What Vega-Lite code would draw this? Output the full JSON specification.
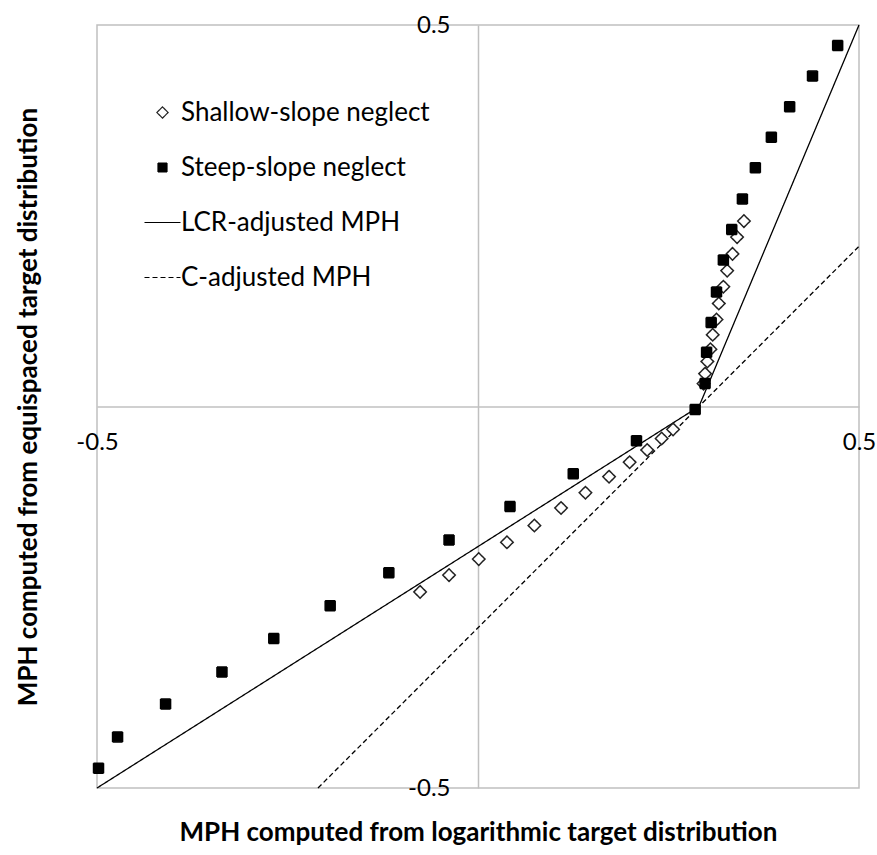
{
  "$schema": "https://vega.github.io/schema/vega-lite/v6.json",
  "width": 762,
  "height": 763,
  "autosize": {"type": "none"},
  "padding": {"left": 97, "top": 25, "right": 18, "bottom": 67},
  "background": "white",
  "config": {
    "font": "Lato",
    "view": {"stroke": "#c0c0c0", "strokeWidth": 1.5},
    "legend": {
      "orient": "none",
      "legendX": 52.5,
      "legendY": 74.5,
      "padding": 0,
      "labelFont": "Lato",
      "labelFontSize": 26,
      "labelColor": "black",
      "labelOffset": 5.5,
      "labelLimit": 0,
      "rowPadding": 29,
      "symbolSize": 81,
      "symbolStrokeWidth": 1.2,
      "title": null
    }
  },
  "datasets": {
    "points": [
      {"series": "Shallow-slope neglect", "x": -0.076, "y": -0.243},
      {"series": "Shallow-slope neglect", "x": -0.038, "y": -0.221},
      {"series": "Shallow-slope neglect", "x": 0.001, "y": -0.200},
      {"series": "Shallow-slope neglect", "x": 0.038, "y": -0.178},
      {"series": "Shallow-slope neglect", "x": 0.074, "y": -0.156},
      {"series": "Shallow-slope neglect", "x": 0.109, "y": -0.133},
      {"series": "Shallow-slope neglect", "x": 0.141, "y": -0.113},
      {"series": "Shallow-slope neglect", "x": 0.172, "y": -0.092},
      {"series": "Shallow-slope neglect", "x": 0.199, "y": -0.073},
      {"series": "Shallow-slope neglect", "x": 0.222, "y": -0.057},
      {"series": "Shallow-slope neglect", "x": 0.241, "y": -0.042},
      {"series": "Shallow-slope neglect", "x": 0.256, "y": -0.030},
      {"series": "Shallow-slope neglect", "x": 0.296, "y": 0.030},
      {"series": "Shallow-slope neglect", "x": 0.298, "y": 0.043},
      {"series": "Shallow-slope neglect", "x": 0.301, "y": 0.059},
      {"series": "Shallow-slope neglect", "x": 0.305, "y": 0.075},
      {"series": "Shallow-slope neglect", "x": 0.308, "y": 0.094},
      {"series": "Shallow-slope neglect", "x": 0.313, "y": 0.114},
      {"series": "Shallow-slope neglect", "x": 0.316, "y": 0.135},
      {"series": "Shallow-slope neglect", "x": 0.322, "y": 0.157},
      {"series": "Shallow-slope neglect", "x": 0.327, "y": 0.178},
      {"series": "Shallow-slope neglect", "x": 0.334, "y": 0.200},
      {"series": "Shallow-slope neglect", "x": 0.340, "y": 0.222},
      {"series": "Shallow-slope neglect", "x": 0.349, "y": 0.243},
      {"series": "Steep-slope neglect", "x": -0.498, "y": -0.474},
      {"series": "Steep-slope neglect", "x": -0.473, "y": -0.433},
      {"series": "Steep-slope neglect", "x": -0.410, "y": -0.390},
      {"series": "Steep-slope neglect", "x": -0.336, "y": -0.348},
      {"series": "Steep-slope neglect", "x": -0.268, "y": -0.304},
      {"series": "Steep-slope neglect", "x": -0.194, "y": -0.261},
      {"series": "Steep-slope neglect", "x": -0.117, "y": -0.218},
      {"series": "Steep-slope neglect", "x": -0.038, "y": -0.175},
      {"series": "Steep-slope neglect", "x": 0.042, "y": -0.131},
      {"series": "Steep-slope neglect", "x": 0.125, "y": -0.088},
      {"series": "Steep-slope neglect", "x": 0.208, "y": -0.045},
      {"series": "Steep-slope neglect", "x": 0.285, "y": -0.004},
      {"series": "Steep-slope neglect", "x": 0.298, "y": 0.030},
      {"series": "Steep-slope neglect", "x": 0.300, "y": 0.071},
      {"series": "Steep-slope neglect", "x": 0.306, "y": 0.110},
      {"series": "Steep-slope neglect", "x": 0.313, "y": 0.150},
      {"series": "Steep-slope neglect", "x": 0.322, "y": 0.192},
      {"series": "Steep-slope neglect", "x": 0.333, "y": 0.232},
      {"series": "Steep-slope neglect", "x": 0.347, "y": 0.272},
      {"series": "Steep-slope neglect", "x": 0.364, "y": 0.313},
      {"series": "Steep-slope neglect", "x": 0.385, "y": 0.353},
      {"series": "Steep-slope neglect", "x": 0.409, "y": 0.393},
      {"series": "Steep-slope neglect", "x": 0.439, "y": 0.433},
      {"series": "Steep-slope neglect", "x": 0.472, "y": 0.473}
    ],
    "lines": [
      {"series": "LCR-adjusted MPH", "order": 1, "x": -0.5, "y": -0.5},
      {"series": "LCR-adjusted MPH", "order": 2, "x": 0.29, "y": 0.0},
      {"series": "LCR-adjusted MPH", "order": 3, "x": 0.5, "y": 0.5},
      {"series": "C-adjusted MPH", "order": 1, "x": -0.21, "y": -0.5},
      {"series": "C-adjusted MPH", "order": 2, "x": 0.5, "y": 0.21}
    ]
  },
  "encoding": {
    "x": {
      "field": "x",
      "type": "quantitative",
      "scale": {"domain": [-0.5, 0.5], "nice": false, "zero": false},
      "axis": {
        "values": [-0.5, 0.5],
        "offset": -381.5,
        "grid": false,
        "ticks": false,
        "tickSize": 0,
        "domainColor": "#c0c0c0",
        "domainWidth": 1.5,
        "labelFontSize": 24,
        "labelColor": "black",
        "labelPadding": 24,
        "labelFlush": false,
        "labelBound": false,
        "labelOverlap": false,
        "labelExpr": "replace(datum.label, '\u2212', '-')",
        "title": "MPH computed from logarithmic target distribution",
        "titleFontSize": 26,
        "titleFontWeight": "bold",
        "titleColor": "black",
        "titleY": 426,
        "titleBaseline": "middle"
      }
    },
    "y": {
      "field": "y",
      "type": "quantitative",
      "scale": {"domain": [-0.5, 0.5], "nice": false, "zero": false},
      "axis": {
        "values": [-0.5, 0.5],
        "offset": -381,
        "grid": false,
        "ticks": false,
        "tickSize": 0,
        "domainColor": "#c0c0c0",
        "domainWidth": 1.5,
        "labelFontSize": 24,
        "labelColor": "black",
        "labelPadding": 28,
        "labelAlign": "right",
        "labelBaseline": "middle",
        "labelFlush": false,
        "labelBound": false,
        "labelOverlap": false,
        "labelExpr": "replace(datum.label, '\u2212', '-')",
        "title": "MPH computed from equispaced target distribution",
        "titleFontSize": 26,
        "titleFontWeight": "bold",
        "titleColor": "black",
        "titleX": -450,
        "titleY": 381.5,
        "titleAngle": -90,
        "titleAlign": "center",
        "titleBaseline": "middle"
      }
    }
  },
  "layer": [
    {
      "data": {"name": "lines"},
      "mark": {"type": "line", "strokeWidth": 1.3},
      "encoding": {
        "order": {"field": "order", "type": "quantitative"},
        "stroke": {
          "field": "series", "type": "nominal", "title": null,
          "scale": {"domain": ["Shallow-slope neglect", "Steep-slope neglect", "LCR-adjusted MPH", "C-adjusted MPH"], "range": ["#222222", "black", "black", "black"]}
        },
        "strokeDash": {
          "field": "series", "type": "nominal", "title": null,
          "scale": {"domain": ["Shallow-slope neglect", "Steep-slope neglect", "LCR-adjusted MPH", "C-adjusted MPH"], "range": [[1, 0], [1, 0], [1, 0], [5, 3]]}
        }
      }
    },
    {
      "data": {"name": "points"},
      "mark": {"type": "point", "filled": true, "size": 100, "strokeWidth": 1.5, "opacity": 1},
      "encoding": {
        "shape": {
          "field": "series", "type": "nominal", "title": null,
          "scale": {"domain": ["Shallow-slope neglect", "Steep-slope neglect", "LCR-adjusted MPH", "C-adjusted MPH"], "range": ["M0,-1.25L1.25,0L0,1.25L-1.25,0Z", "square", "M-4,0H4", "M-4,0H4"]}
        },
        "fill": {
          "field": "series", "type": "nominal", "title": null,
          "scale": {"domain": ["Shallow-slope neglect", "Steep-slope neglect", "LCR-adjusted MPH", "C-adjusted MPH"], "range": ["white", "black", "transparent", "transparent"]}
        },
        "stroke": {
          "field": "series", "type": "nominal", "title": null,
          "scale": {"domain": ["Shallow-slope neglect", "Steep-slope neglect", "LCR-adjusted MPH", "C-adjusted MPH"], "range": ["#222222", "black", "black", "black"]}
        },
        "strokeDash": {
          "field": "series", "type": "nominal", "title": null,
          "scale": {"domain": ["Shallow-slope neglect", "Steep-slope neglect", "LCR-adjusted MPH", "C-adjusted MPH"], "range": [[1, 0], [1, 0], [1, 0], [5, 3]]}
        }
      }
    }
  ]
}
